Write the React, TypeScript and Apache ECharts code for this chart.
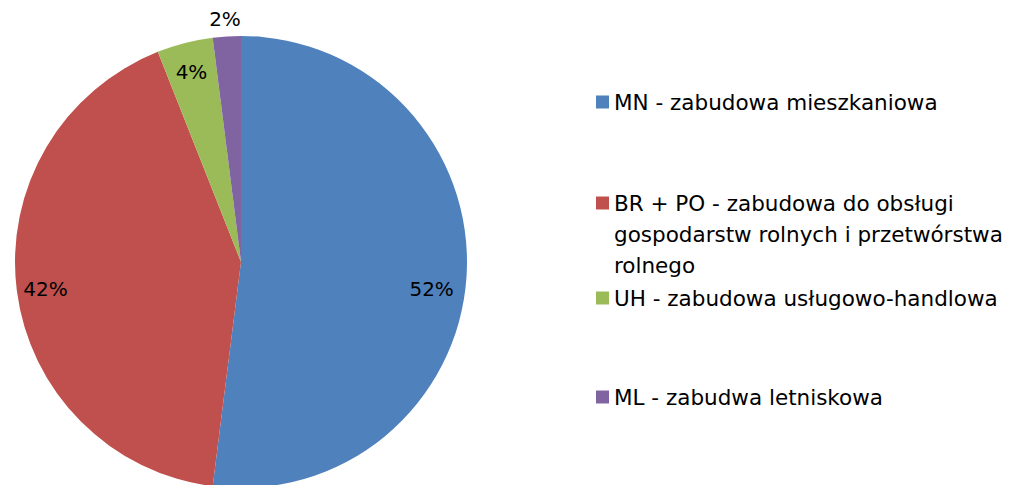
import React, { useEffect, useRef } from "react";
import * as echarts from "echarts";

const categories = [
  "MN - zabudowa mieszkaniowa",
  "BR + PO - zabudowa do obsługi\ngospodarstw rolnych i przetwórstwa\nrolnego",
  "UH - zabudowa usługowo-handlowa",
  "ML - zabudwa letniskowa",
];
const values = [52, 42, 4, 2];
const colors = ["#4F81BD", "#C0504D", "#9BBB59", "#8064A2"];
const labelOffsets = [
  [0, 15],
  [-6, 3],
  [-2, -5],
  [-4, -52],
];
const legendTops = [81.5, 120.5, 277.5, 376.5];

export default function App() {
  const ref = useRef<HTMLDivElement>(null);
  useEffect(() => {
    if (!ref.current) return;
    const chart = echarts.init(ref.current, undefined, { renderer: "svg" });
    const font = "'DejaVu Sans', 'Noto Sans', sans-serif";
    const pieData = categories.map((name, i) => ({
      name,
      value: values[i],
      itemStyle: { color: colors[i] },
    }));
    const labelData = categories.map((name, i) => ({
      name,
      value: values[i],
      label: { offset: labelOffsets[i] },
    }));
    chart.setOption({
      animation: false,
      backgroundColor: "#ffffff",
      legend: categories.map((name, i) => ({
        orient: "vertical",
        left: 591,
        top: legendTops[i],
        data: [name],
        icon: "rect",
        itemWidth: 13,
        itemHeight: 13,
        itemGap: 10,
        selectedMode: false,
        formatter: i === 1 ? (n: string) => "\n\n" + n : "{name}",
        textStyle: {
          color: "#000000",
          fontFamily: font,
          fontSize: 21.5,
          lineHeight: 31,
        },
      })),
      series: [
        {
          type: "pie",
          center: [241, 262],
          radius: [0, 226],
          startAngle: 90,
          clockwise: true,
          silent: true,
          label: { show: false },
          labelLine: { show: false },
          data: pieData,
        },
        {
          type: "pie",
          center: [241, 262],
          radius: [150, 226],
          startAngle: 90,
          clockwise: true,
          silent: true,
          itemStyle: { color: "transparent" },
          label: {
            show: true,
            position: "inside",
            formatter: "{c}%",
            color: "#000000",
            fontFamily: font,
            fontSize: 20,
          },
          labelLine: { show: false },
          data: labelData,
        },
      ],
    });
    return () => chart.dispose();
  }, []);
  return (
    <div
      ref={ref}
      style={{ position: "fixed", left: 0, top: 0, width: 1019, height: 485 }}
    />
  );
}
